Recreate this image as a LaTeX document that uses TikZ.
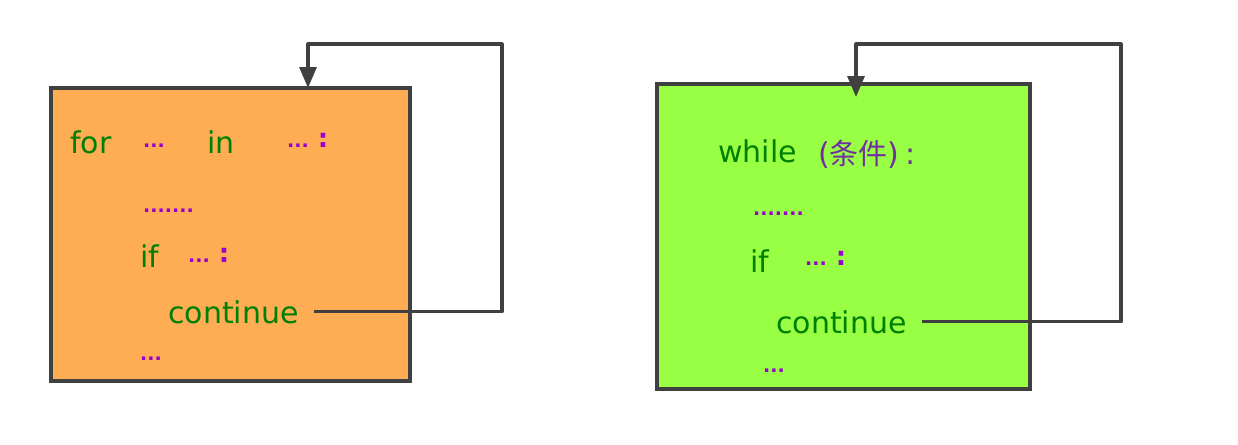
\documentclass[tikz,border=0pt]{standalone}
\usepackage{fontspec}
\setmainfont{DejaVu Sans}
\newfontfamily\cjkfont{Noto Sans CJK SC}
\usetikzlibrary{arrows.meta}

\definecolor{codegreen}{RGB}{0,128,0}
\definecolor{dotpurple}{RGB}{153,0,204}
\definecolor{condpurple}{RGB}{112,48,160}
\definecolor{forfill}{RGB}{255,173,85}
\definecolor{whilefill}{RGB}{153,255,68}
\definecolor{linegray}{RGB}{64,64,64}

\tikzset{
  loopbox/.style={draw=linegray, line width=3.2pt, inner sep=0pt},
  keyword/.style={text=codegreen, inner sep=0pt, anchor=base west,
    font=\fontsize{30}{36}\selectfont},
  filler/.style={text=dotpurple, inner sep=0pt, anchor=base west,
    font=\bfseries\fontsize{19}{24}\selectfont},
  flow/.style={draw=linegray, line width=3.2pt, line join=round,
    -{Triangle[width=17pt,length=21pt]}},
}

\begin{document}
\begin{tikzpicture}[x=1pt, y=-1pt]
  \useasboundingbox (0,0) rectangle (1238,444);
  % boxes
  \node[loopbox, fill=forfill, minimum width=359pt, minimum height=293pt]
    (forloop) at (230.5,234.5) {};
  \node[loopbox, fill=whilefill, minimum width=373pt, minimum height=305pt]
    (whileloop) at (843.5,236.5) {};

  % for loop text
  \node[keyword] (for) at (70,153) {for};
  \node[filler] (forvar) at (143,147) {...};
  \node[keyword] (in) at (207,153) {in};
  \node[filler] (forseq) at (287,147) {...\hspace{9pt}\fontsize{26}{32}\selectfont:};
  \node[filler] (forbody) at (143,212) {.......};
  \node[keyword] (forif) at (140,267) {if};
  \node[filler] (forcond) at (188,262) {...\hspace{9pt}\fontsize{26}{32}\selectfont:};
  \node[keyword] (forcont) at (168,323) {continue};
  \node[filler] (forrest) at (140,360) {...};

  % while loop text
  \node[keyword] (while) at (718,162) {while};
  \node[keyword, text=condpurple] (whilecond) at (818,164)
    {\fontsize{30}{36}\selectfont({\cjkfont\fontsize{29}{34}\selectfont 条件})\hspace{6pt}:};
  \node[filler] (whilebody) at (753,215) {.......};
  \node[keyword] (whileif) at (750,272) {if};
  \node[filler] (whileifcond) at (805,265) {...\hspace{9pt}\fontsize{26}{32}\selectfont:};
  \node[keyword] (whilecont) at (776,333) {continue};
  \node[filler] (whilerest) at (763,372) {...};

  % connectors
  \coordinate (forturn) at (502,44);
  \coordinate (forentry) at (308,88);
  \coordinate (whileturn) at (1121,44);
  \coordinate (whileentry) at (856,97);
  \draw[flow] ([xshift=15pt]forcont.east) -| (forturn) -| (forentry);
  \draw[flow] ([xshift=15pt]whilecont.east) -| (whileturn) -| (whileentry);
\end{tikzpicture}
\end{document}
